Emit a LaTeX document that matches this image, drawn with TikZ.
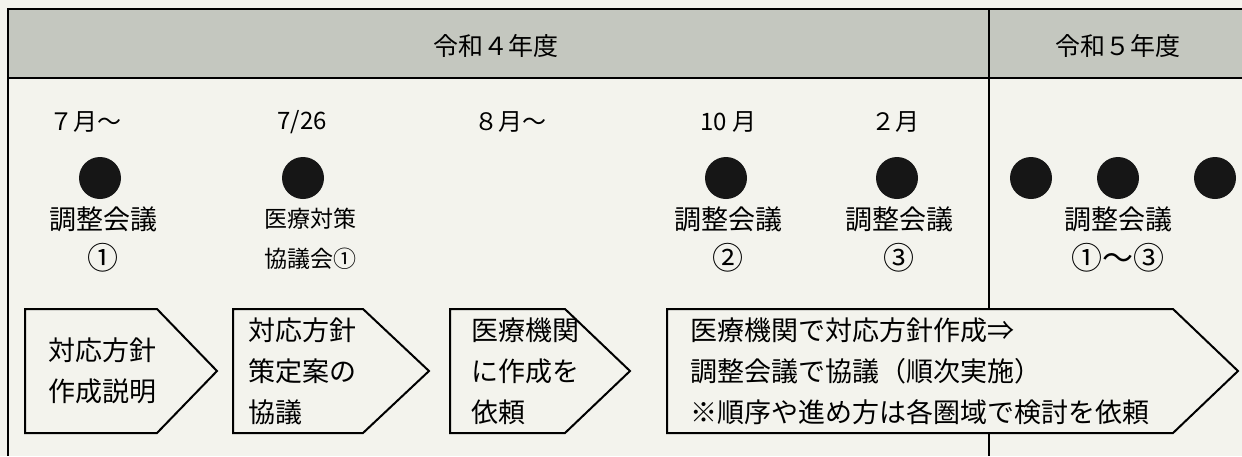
\documentclass[tikz,border=0pt]{standalone}
\usepackage{fontspec}
\setmainfont{Noto Sans CJK JP}
\usepackage{tikz}
\usetikzlibrary{positioning}
\definecolor{paperwhite}{RGB}{243,243,237}
\definecolor{headgray}{RGB}{196,199,191}
\definecolor{dotblack}{RGB}{22,22,22}
\newcommand{\bignum}[1]{{\fontsize{31}{40}\selectfont #1}}

\begin{document}
\begin{tikzpicture}[x=1pt,y=-1pt,
    frame/.style={line width=1.5pt},
    stage/.style={draw,line width=2pt,line join=miter,fill=paperwhite},
    stagetext/.style={anchor=west,inner sep=0pt,align=left,
                      font=\fontsize{27}{41}\selectfont},
    year/.style={inner sep=0pt,font=\fontsize{25}{30}\selectfont},
    month/.style={inner sep=0pt,font=\fontsize{24}{28}\selectfont},
    meet/.style={circle,fill=dotblack,minimum size=42pt,inner sep=0pt},
    meetlabel/.style={inner sep=0pt,align=center,
                      font=\fontsize{27}{40}\selectfont}]

    \fill[paperwhite] (0,0) rectangle (1242,456);
    \useasboundingbox (0,0) rectangle (1242,456);

    % header band and frame
    \fill[headgray] (8,9) rectangle (1242,78);
    \draw[frame] (1242,9) -- (8,9) -- (8,456);
    \draw[frame] (8,78) -- (1242,78);
    \draw[frame] (989,9) -- (989,309);
    \draw[frame] (989,433) -- (989,456);

    \node[year] (r4) at (496,46) {令和４年度};
    \node[year] (r5) at (1118,46) {令和５年度};

    % months
    \node[month] (m7) at (85,122) {７月〜};
    \node[month] (d726) at (302,122) {7/26};
    \node[month] (m8) at (510,122) {８月〜};
    \node[month] (m10) at (728,122) {10 月};
    \node[month] (m2) at (895,122) {２月};

    % meetings
    \node[meet] (c1) at (100,178) {};
    \node[meet] (c2) at (303,178) {};
    \node[meet] (c4) at (726,178) {};
    \node[meet] (c5) at (897,178) {};
    \node[meet] (c6a) at (1031,178) {};
    \node[meet] (c6b) at (1118,178) {};
    \node[meet] (c6c) at (1215,178) {};

    \node[meetlabel] (l1) at (103,239) {調整会議\\\bignum{①}};
    \node[meetlabel,font=\fontsize{23}{40}\selectfont] (l2) at (310,239)
      {医療対策\\協議会①};
    \node[meetlabel] (l4) at (728,239) {調整会議\\\bignum{②}};
    \node[meetlabel] (l5) at (899,239) {調整会議\\\bignum{③}};
    \node[meetlabel] (l6) at (1118,239) {調整会議\\\bignum{①〜③}};

    % steps
    \path[stage] (25,309) -- (157,309) -- (217,371) -- (157,433) -- (25,433) -- cycle;
    \path[stage] (233,309) -- (363,309) -- (429,371) -- (363,433) -- (233,433) -- cycle;
    \path[stage] (450,309) -- (565,309) -- (630,371) -- (565,433) -- (450,433) -- cycle;
    \path[stage] (667,309) -- (1173,309) -- (1238,371) -- (1173,433) -- (667,433) -- cycle;

    \node[stagetext] (s1) at (48,371) {対応方針\\作成説明};
    \node[stagetext] (s2) at (248,371) {対応方針\\策定案の\\協議};
    \node[stagetext] (s3) at (471,371) {医療機関\\に作成を\\依頼};
    \node[stagetext] (s4) at (690,371)
      {医療機関で対応方針作成⇒\\調整会議で協議（順次実施）\\※順序や進め方は各圏域で検討を依頼};
  \end{tikzpicture}
\end{document}
